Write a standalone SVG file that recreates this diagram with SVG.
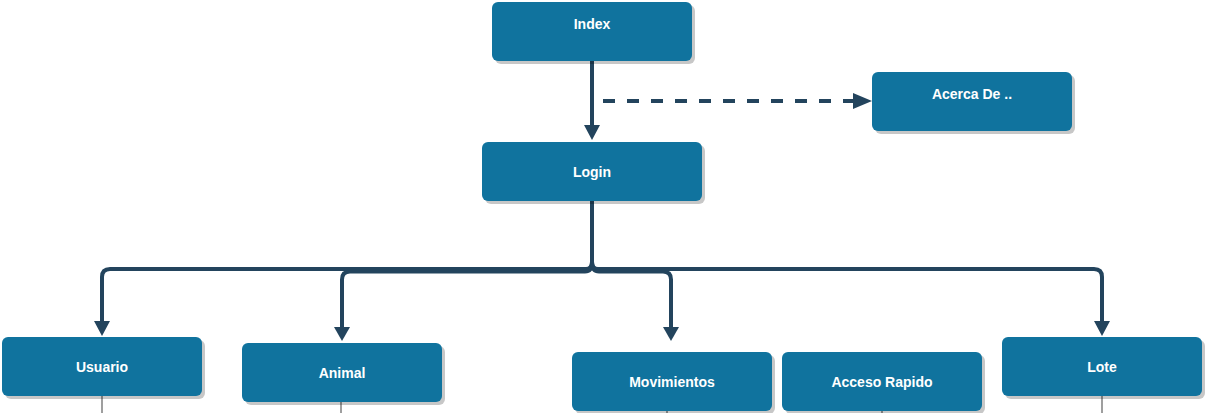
<svg xmlns="http://www.w3.org/2000/svg" width="1212" height="413" viewBox="0 0 1212 413">
<style>
.box{fill:#10739E;}
.sh{fill:#000;opacity:0.22;}
.lbl{font-family:"Liberation Sans",Arial,sans-serif;font-size:14px;font-weight:bold;fill:#FFFFFF;text-anchor:middle;}
.con{fill:none;stroke:#23445D;stroke-width:4;}
.dash{stroke-dasharray:12 12;}
.ah{fill:#23445D;}
.thin{fill:none;stroke:#808080;stroke-width:1.5;}
</style>
<rect width="1212" height="413" fill="#FFFFFF"/>
<g id="connectors">
  <path class="con" d="M592 61 V126"/>
  <polygon class="ah" points="584,125 600,125 592,140"/>
  <path class="con dash" d="M603 101 H856"/>
  <polygon class="ah" points="853,93 872,101 853,109"/>
  <path class="con" d="M592 201 V262 Q592 269 586 269 H110 Q102 269 102 277 V322"/>
  <polygon class="ah" points="94,321 110,321 102,336"/>
  <path class="con" d="M592 262 Q592 271.5 585 271.5 H350 Q342 271.5 342 279.5 V328"/>
  <polygon class="ah" points="334,327 350,327 342,341"/>
  <path class="con" d="M592 262 Q592 271.5 599 271.5 H663 Q671 271.5 671 279.5 V328"/>
  <polygon class="ah" points="663,327 679,327 671,341"/>
  <path class="con" d="M592 262 Q592 269 598 269 H1094 Q1102 269 1102 277 V322"/>
  <polygon class="ah" points="1094,321 1110,321 1102,336"/>
  <path class="thin" d="M102 396 V413 M341 402 V413 M667 411 V413 M882 411 V413 M1102 396 V413"/>
</g>
<g id="index">
  <rect class="sh" x="495" y="5" width="200" height="59" rx="6"/>
  <rect class="box" x="492" y="2" width="200" height="59" rx="6"/>
  <text class="lbl" x="592" y="29">Index</text>
</g>
<g id="acerca">
  <rect class="sh" x="875" y="75" width="200" height="59" rx="6"/>
  <rect class="box" x="872" y="72" width="200" height="59" rx="6"/>
  <text class="lbl" x="972" y="99">Acerca De ..</text>
</g>
<g id="login">
  <rect class="sh" x="485" y="145" width="220" height="59" rx="6"/>
  <rect class="box" x="482" y="142" width="220" height="59" rx="6"/>
  <text class="lbl" x="592" y="177">Login</text>
</g>
<g id="usuario">
  <rect class="sh" x="5" y="340" width="200" height="59" rx="6"/>
  <rect class="box" x="2" y="337" width="200" height="59" rx="6"/>
  <text class="lbl" x="102" y="372">Usuario</text>
</g>
<g id="animal">
  <rect class="sh" x="245" y="346" width="200" height="59" rx="6"/>
  <rect class="box" x="242" y="343" width="200" height="59" rx="6"/>
  <text class="lbl" x="342" y="378">Animal</text>
</g>
<g id="movimientos">
  <rect class="sh" x="575" y="355" width="200" height="59" rx="6"/>
  <rect class="box" x="572" y="352" width="200" height="59" rx="6"/>
  <text class="lbl" x="672" y="387">Movimientos</text>
</g>
<g id="acceso">
  <rect class="sh" x="785" y="355" width="200" height="59" rx="6"/>
  <rect class="box" x="782" y="352" width="200" height="59" rx="6"/>
  <text class="lbl" x="882" y="387">Acceso Rapido</text>
</g>
<g id="lote">
  <rect class="sh" x="1005" y="340" width="200" height="59" rx="6"/>
  <rect class="box" x="1002" y="337" width="200" height="59" rx="6"/>
  <text class="lbl" x="1102" y="372">Lote</text>
</g>
</svg>
